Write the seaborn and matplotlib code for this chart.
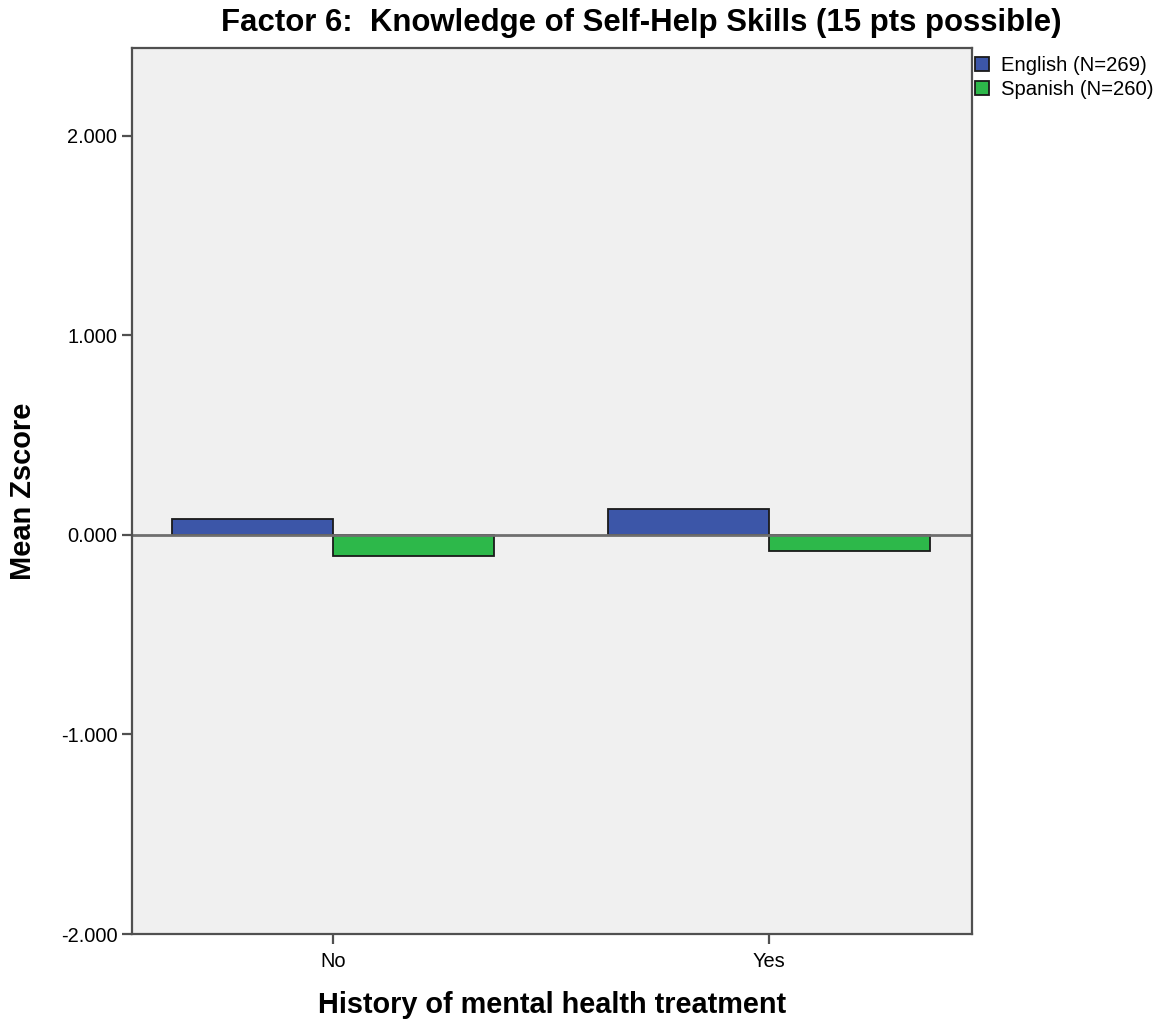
import numpy as np
import pandas as pd
import seaborn as sns
import matplotlib.pyplot as plt

# values
treatment = ["No", "Yes"]
english_z = [0.082, 0.132]
spanish_z = [-0.106, -0.082]
groups = ["English (N=269)", "Spanish (N=260)"]
y_ticks = [-2.0, -1.0, 0.0, 1.0, 2.0]

df = pd.DataFrame({
    "treatment": treatment * 2,
    "zscore": english_z + spanish_z,
    "group": [groups[0]] * 2 + [groups[1]] * 2,
})

sns.set_style("white")
plt.rcParams["font.family"] = ["Liberation Sans", "DejaVu Sans"]
plt.rcParams["text.color"] = "black"
plt.rcParams["axes.labelcolor"] = "black"
plt.rcParams["xtick.color"] = "black"
plt.rcParams["ytick.color"] = "black"

fig = plt.figure(figsize=(11.66, 10.27), dpi=100)
ax = fig.add_axes([132 / 1166, 93 / 1027, 840 / 1166, 886 / 1027])
ax.set_facecolor("#f0f0f0")

sns.barplot(
    data=df,
    x="treatment",
    y="zscore",
    hue="group",
    palette=["#3c56a8", "#2db84a"],
    saturation=1,
    edgecolor="#1a1a1a",
    linewidth=1.3,
    width=0.74,
    errorbar=None,
    ax=ax,
)

# zero reference line
ax.axhline(0, color="#6e6e6e", linewidth=2, zorder=1)

ax.set_xlim(-0.462, 1.467)
ax.set_ylim(-2.0, 2.44)
ax.set_yticks(y_ticks)
ax.set_yticklabels([f"{v:.3f}" for v in y_ticks])

for side in ["left", "bottom", "top", "right"]:
    ax.spines[side].set_visible(True)
    ax.spines[side].set_color("#505050")
    ax.spines[side].set_linewidth(1.6)

ax.tick_params(axis="y", length=7, width=1.6, color="#505050", pad=3.5, labelsize=14.4, left=True)
ax.tick_params(axis="x", length=7, width=1.6, color="#505050", pad=6, labelsize=14.4, bottom=True)

ax.set_xlabel("History of mental health treatment", fontsize=20.8, fontweight="bold")
ax.xaxis.set_label_coords(0.5, -0.064)
ax.set_ylabel("")
fig.text(23 / 1166, 0.522, "Mean Zscore", rotation=90, ha="center", va="center",
         fontsize=20.9, fontweight="bold")

fig.text(641 / 1166, 1 - 23 / 1027, "Factor 6:  Knowledge of Self-Help Skills (15 pts possible)",
         ha="center", va="center", fontsize=22.4, fontweight="bold")

handles, labels = ax.get_legend_handles_labels()
ax.legend_.remove()
fig.legend(handles, labels, loc="upper left", bbox_to_anchor=(975 / 1166, 1 - 56 / 1027),
           frameon=False, fontsize=14.6, handlelength=0.68, handleheight=0.68,
           handletextpad=0.6, labelspacing=0.25, borderpad=0, borderaxespad=0)

fig.savefig("out.png", dpi=100)
